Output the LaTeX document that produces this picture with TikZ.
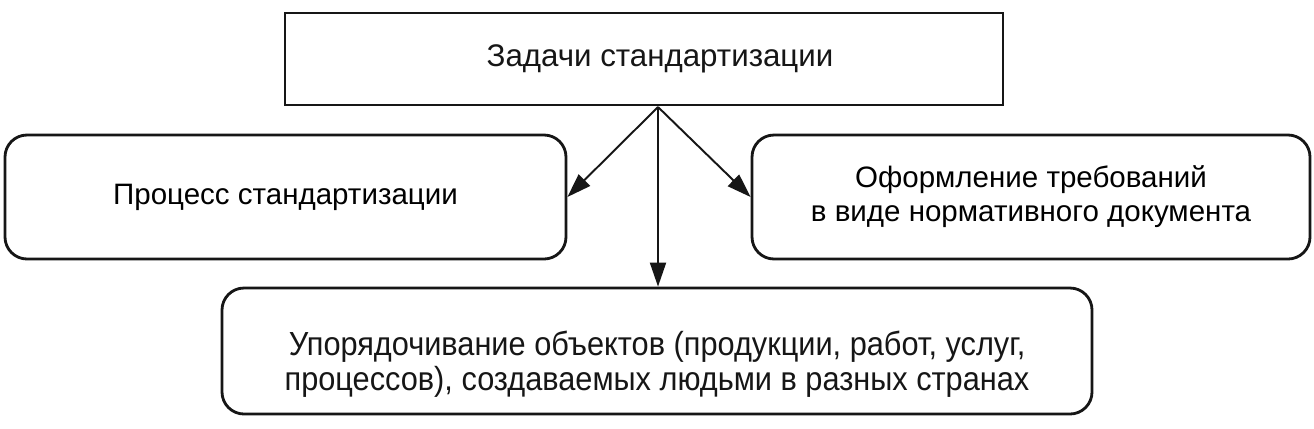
\documentclass[tikz,border=0pt]{standalone}
\usepackage{fontspec}
\setmainfont{Liberation Sans}
\newfontfamily\narrowsans[FakeStretch=0.92]{Liberation Sans}
\usepackage{xcolor}
\usetikzlibrary{arrows.meta, positioning, calc}
\definecolor{ink}{HTML}{161616}

\begin{document}
\begin{tikzpicture}[
  taskbox/.style={rectangle, draw=ink, line width=1.6pt, minimum width=14.36cm, minimum height=1.84cm},
  roundbox/.style={rectangle, draw=ink, line width=1.6pt, rounded corners=0.44cm, align=center, font=\fontsize{16.8}{19.4}\selectfont},
  label/.style={align=center, text=ink},
  link/.style={draw=ink, line width=1.1pt, -{Triangle[length=0.48cm, width=0.32cm]}}
]
  \useasboundingbox[fill=white] (0,0) rectangle (26.28,-8.56);

  \node[taskbox] (tasks) at (12.88,-1.18) {};
  \node[label, font=\fontsize{17.8}{21}\selectfont] at ([xshift=0.32cm]tasks.center) {Задачи стандартизации};

  \node[roundbox, minimum width=11.22cm, minimum height=2.48cm] (process) at (5.71,-3.94) {Процесс стандартизации};
  \node[roundbox, minimum width=11.16cm, minimum height=2.48cm] (document) at (20.62,-3.94)
    {Оформление требований\\в виде нормативного документа};

  \node[roundbox, minimum width=17.4cm, minimum height=2.52cm] (order) at (13.14,-7.02) {};
  \node[label, font=\narrowsans\fontsize{19}{20}\selectfont] at ([yshift=-0.26cm]order.center)
    {Упорядочивание объектов (продукции, работ, услуг,\\процессов), создаваемых людьми в разных странах};

  \coordinate (fork) at (13.16,-2.14);
  \draw[link] (fork) -- (process.east);
  \draw[link] (fork) -- (document.west);
  \draw[link] (fork) -- (fork |- order.north);
\end{tikzpicture}
\end{document}
